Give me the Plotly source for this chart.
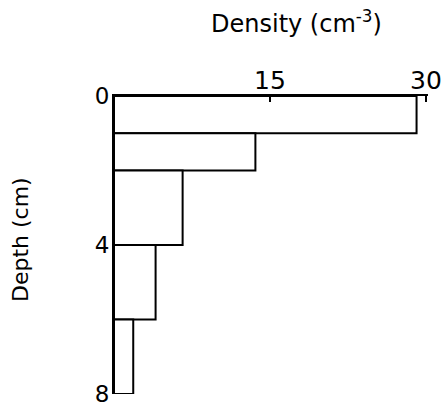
import plotly.graph_objects as go

depth_top = [0, 1, 2, 4, 6]
depth_bottom = [1, 2, 4, 6, 8]
density = [29.1, 13.6, 6.6, 4.0, 1.85]
x_ticks = [15, 30]
y_ticks = [0, 4, 8]

mid = [(a + b) / 2 for a, b in zip(depth_top, depth_bottom)]
thick = [b - a for a, b in zip(depth_top, depth_bottom)]

FONT = "DejaVu Sans"
W, H = 445, 406
l, r, t, b = 114, 17, 96, 12
pw, ph = W - l - r, H - t - b


def px_to_paper(px, py):
    return (px - l) / pw, 1 - (py - t) / ph


fig = go.Figure(go.Bar(
    x=density, y=mid, width=thick, orientation="h",
    marker=dict(color="white", line=dict(color="black", width=2)),
))

tx, ty = px_to_paper(296, 22)
yx, yy = px_to_paper(20, 240)

fig.update_layout(
    width=W, height=H,
    margin=dict(l=l, r=r, t=t, b=b, autoexpand=False),
    paper_bgcolor="white", plot_bgcolor="white",
    showlegend=False,
    font=dict(family=FONT, color="black", size=25),
    xaxis=dict(side="top", range=[0, 30.2], tickvals=x_ticks,
               ticks="inside", ticklen=6, tickwidth=2, tickcolor="black",
               showline=True, linecolor="black", linewidth=2,
               showgrid=False, zeroline=False, ticklabelstandoff=-5,
               automargin=False, ticklabeloverflow="allow"),
    yaxis=dict(range=[8, 0], tickvals=y_ticks, ticks="",
               showline=True, linecolor="black", linewidth=2,
               showgrid=False, zeroline=False, automargin=False,
               ticklabeloverflow="allow", ticklabelstandoff=-2,
               tickfont=dict(size=23)),
    annotations=[
        dict(text="Density (cm<sup>-3</sup>)", x=tx, y=ty, xref="paper", yref="paper",
             xanchor="center", yanchor="middle", showarrow=False, font=dict(size=24)),
        dict(text="Depth (cm)", x=yx, y=yy, xref="paper", yref="paper",
             xanchor="center", yanchor="middle", textangle=-90, showarrow=False,
             font=dict(size=22)),
    ],
)
fig.write_html("out.html")
